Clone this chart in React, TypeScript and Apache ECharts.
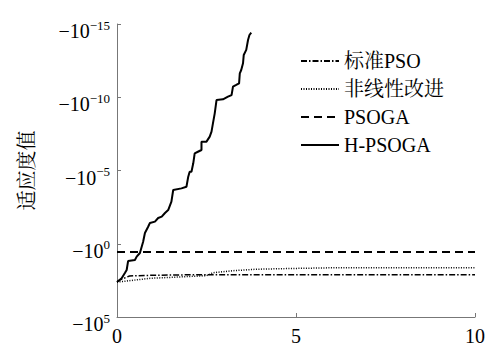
import React, { useEffect, useRef } from "react";
import * as echarts from "echarts";

// y value = -log10(|fitness|)  (fitness is negative)
const seriesNames = ["标准PSO", "非线性改进", "PSOGA", "H-PSOGA"];
const xTickLabels = ["0", "5", "10"];

const psoX = [0, 0.1, 0.35, 1.0, 2.0, 10];
const psoY = [-2.6, -2.45, -2.2, -2.15, -2.12, -2.12];

const nonlinX = [0, 0.92, 2.5, 2.68, 3.24, 3.89, 4.63, 6.0, 10];
const nonlinY = [-2.62, -2.36, -2.18, -1.98, -1.84, -1.74, -1.7, -1.64, -1.63];

const psogaX = [0, 10];
const psogaY = [-0.57, -0.57];

const hX = [
  0, 0.13, 0.22, 0.27, 0.31, 0.5, 0.55, 0.64, 0.69, 0.73, 0.78, 0.87, 0.92,
  1.06, 1.15, 1.25, 1.34, 1.43, 1.52, 1.57, 1.8, 1.94, 1.99, 2.03, 2.08, 2.13,
  2.17, 2.26, 2.36, 2.36, 2.5, 2.59, 2.64, 2.68, 2.73, 2.78, 2.96, 3.1, 3.2,
  3.24, 3.33, 3.41, 3.43, 3.47, 3.52, 3.54, 3.61, 3.66, 3.7, 3.75,
];
const hY = [
  -2.61, -2.36, -2.0, -1.79, -1.18, -1.11, -0.88, -0.63, -0.2, 0.14, 0.73,
  1.16, 1.42, 1.51, 1.76, 1.85, 2.1, 2.3, 2.87, 3.67, 3.78, 3.89, 4.58, 4.92,
  4.92, 5.49, 6.17, 6.28, 6.4, 6.97, 6.97, 7.31, 7.65, 8.22, 8.9, 9.81, 9.86,
  10.04, 10.15, 10.72, 10.84, 10.95, 11.63, 11.86, 12.32, 12.88, 13.23, 13.91,
  14.25, 14.41,
];

const zip = (xs: number[], ys: number[]) => xs.map((x, i) => [x, ys[i]]);

const SERIF = "Liberation Serif";
const CJK_SERIF = "Noto Serif CJK SC";
const AXIS_COLOR = "#777";

export default function App() {
  const ref = useRef<HTMLDivElement>(null);
  useEffect(() => {
    document.body.style.margin = "0";
    if (!ref.current) return;
    const chart = echarts.init(ref.current, undefined, { renderer: "svg" });
    const lineStyles: any[] = [
      { color: "#000", width: 1.5, type: [6, 2, 1.5, 2] },
      { color: "#000", width: 1.5, type: [1, 1.5] },
      { color: "#000", width: 2, type: [8, 5] },
      { color: "#000", width: 2, type: "solid" },
    ];
    const datas = [
      zip(psoX, psoY),
      zip(nonlinX, nonlinY),
      zip(psogaX, psogaY),
      zip(hX, hY),
    ];
    const base = { fontStyle: "normal", fontWeight: "normal", color: "#000" };
    chart.setOption({
      animation: false,
      backgroundColor: "#fff",
      textStyle: { ...base, fontFamily: SERIF },
      grid: { left: 117, right: 12, top: 24, bottom: 39, containLabel: false },
      legend: {
        orient: "vertical",
        left: 295,
        top: 46,
        itemWidth: 38,
        itemHeight: 14,
        itemGap: 8,
        data: seriesNames,
        itemStyle: { opacity: 0, borderWidth: 0 },
        textStyle: {
          ...base,
          fontFamily: SERIF + ", " + CJK_SERIF,
          fontSize: 20,
          lineHeight: 20,
        },
      },
      xAxis: {
        type: "value",
        min: 0,
        max: 10,
        interval: 5,
        axisLine: { show: true, onZero: false, lineStyle: { color: AXIS_COLOR, width: 1 } },
        axisTick: { show: true, inside: true, length: 4, lineStyle: { color: AXIS_COLOR } },
        splitLine: { show: false },
        axisLabel: {
          ...base,
          fontFamily: SERIF,
          fontSize: 20,
          margin: 9,
          formatter: (v: number) => xTickLabels[Math.round(v / 5)] ?? String(v),
        },
      },
      yAxis: {
        type: "value",
        min: -5,
        max: 15,
        interval: 5,
        name: "适应度值",
        nameLocation: "middle",
        nameRotate: 90,
        nameGap: 82,
        nameTextStyle: {
          ...base,
          fontFamily: CJK_SERIF,
          fontSize: 20,
        },
        axisLine: { show: true, onZero: false, lineStyle: { color: AXIS_COLOR, width: 1 } },
        axisTick: { show: true, inside: true, length: 4, lineStyle: { color: AXIS_COLOR } },
        splitLine: { show: false },
        axisLabel: {
          ...base,
          fontFamily: SERIF,
          fontSize: 20,
          margin: 7,
          padding: [14, 0, 0, 0],
          formatter: (v: number) => {
            const e = -v;
            const es = e < 0 ? "\u2212" + Math.abs(e) : String(e);
            return `{a|\u221210}{b|${es}}`;
          },
          rich: {
            a: { ...base, fontFamily: SERIF, fontSize: 20 },
            b: { ...base, fontFamily: SERIF, fontSize: 13, padding: [0, 0, 12, 0] },
          },
        },
      },
      series: seriesNames.map((name, i) => ({
        name,
        type: "line",
        data: datas[i],
        symbol: "none",
        lineStyle: lineStyles[i],
        itemStyle: { color: "transparent", borderColor: "transparent" },
        z: i === 3 ? 5 : 3,
      })),
    });
    return () => chart.dispose();
  }, []);
  return <div ref={ref} style={{ width: 488, height: 356 }} />;
}
